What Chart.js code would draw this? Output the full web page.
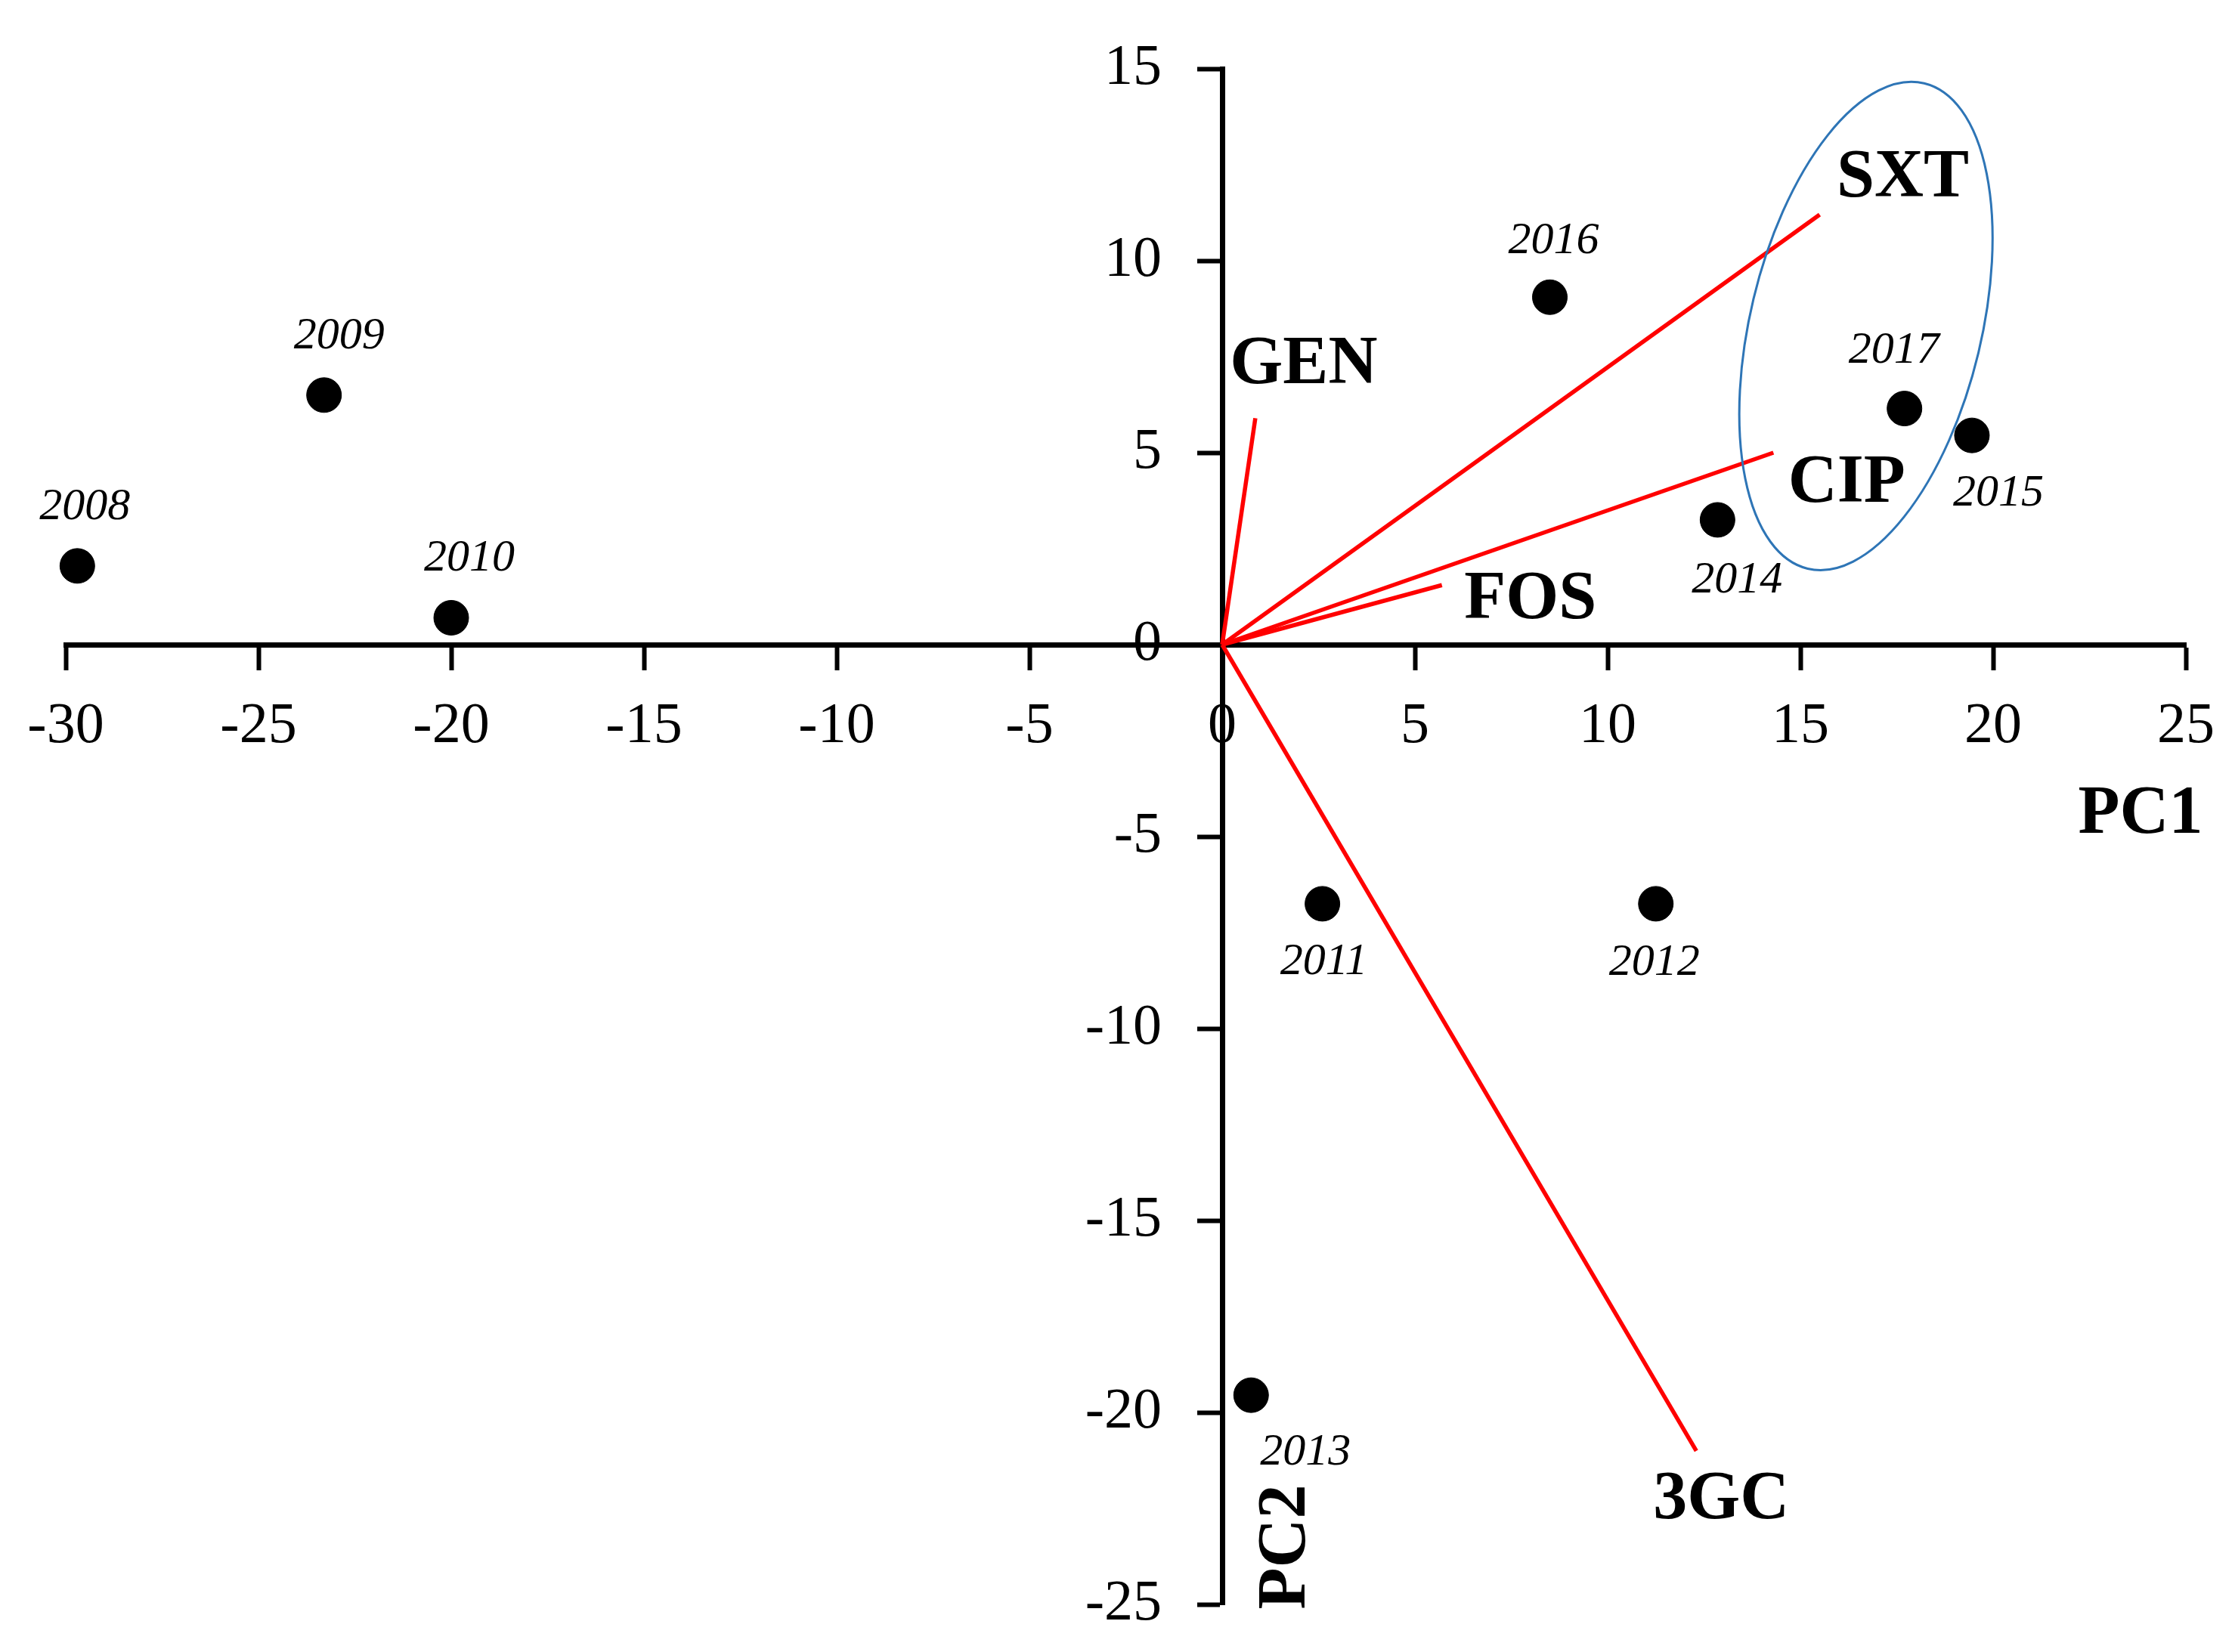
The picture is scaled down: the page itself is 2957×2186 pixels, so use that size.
<!DOCTYPE html>
<html>
<head>
<meta charset="utf-8">
<title>PCA biplot</title>
<script src="https://cdn.jsdelivr.net/npm/chart.js@4.4.1/dist/chart.umd.min.js"></script>
<style>
  html, body { margin: 0; padding: 0; background: #ffffff; overflow: hidden; }
  .chart-box { width: 2957px; height: 2186px; }
</style>
</head>
<body>
<div class="chart-box"><canvas id="biplot"></canvas></div>
<script>
// Scores (one point per year)
const years = ['2008', '2009', '2010', '2011', '2012', '2013', '2014', '2015', '2016', '2017'];
const scoreX = [-29.7, -23.3, -20.0, 2.6, 11.25, 0.75, 12.85, 19.45, 8.5, 17.7];
const scoreY = [2.05, 6.5, 0.7, -6.75, -6.75, -19.55, 3.25, 5.45, 9.05, 6.15];

// Loadings (one vector per antibiotic)
const drugs = ['GEN', 'SXT', 'CIP', 'FOS', '3GC'];
const loadX = [0.86, 15.5, 14.3, 5.7, 12.3];
const loadY = [5.9, 11.2, 5.0, 1.55, -21.0];

// Axis ticks
const xTicks = [-30, -25, -20, -15, -10, -5, 0, 5, 10, 15, 20, 25];
const yTicks = [-25, -20, -15, -10, -5, 0, 5, 10, 15];

// Cluster ellipse (data units)
const clusterCenter = [16.7, 8.3];
const clusterRadii = [3.0, 6.5];
const clusterTilt = 13.5;

// Label placement, in pixels from the mark
const yearLabelOffset = {
  '2008': [10, -78], '2009': [20, -78], '2010': [24, -78], '2011': [2, 77], '2012': [-2, 78],
  '2013': [72, 76], '2014': [26, 80], '2015': [35, 77], '2016': [5, -74], '2017': [-14, -76]
};
const drugLabelOffset = {
  'GEN': [64, -70], 'SXT': [110, -47], 'CIP': [97, 42], 'FOS': [117, 20], '3GC': [33, 66]
};

const serif = '"Liberation Serif", "DejaVu Serif", serif';

// Tick labels, text labels, axis titles and the ellipse
const annotationPlugin = {
  id: 'annotations',
  afterDatasetsDraw(chart) {
    const ctx = chart.ctx;
    const xs = chart.scales.x;
    const ys = chart.scales.y;
    const x0 = xs.getPixelForValue(0);
    const y0 = ys.getPixelForValue(0);
    ctx.save();

    // ellipse
    const cx = xs.getPixelForValue(clusterCenter[0]);
    const cy = ys.getPixelForValue(clusterCenter[1]);
    const rx = Math.abs(xs.getPixelForValue(clusterCenter[0] + clusterRadii[0]) - cx);
    const ry = Math.abs(ys.getPixelForValue(clusterCenter[1] + clusterRadii[1]) - cy);
    ctx.beginPath();
    ctx.ellipse(cx, cy, rx, ry, clusterTilt * Math.PI / 180, 0, Math.PI * 2);
    ctx.strokeStyle = '#2E75B6';
    ctx.lineWidth = 3;
    ctx.stroke();

    ctx.fillStyle = '#000000';
    ctx.textBaseline = 'middle';
    ctx.font = '76px ' + serif;

    // y tick labels, left of the centre axis
    ctx.textAlign = 'right';
    yTicks.forEach(function(v) {
      ctx.fillText(String(v), x0 - 80, ys.getPixelForValue(v));
    });

    // x tick labels, below the centre axis
    ctx.textAlign = 'center';
    xTicks.forEach(function(v) {
      ctx.fillText(String(v), xs.getPixelForValue(v), y0 + 109);
    });

    // year labels
    ctx.font = 'italic 60px ' + serif;
    years.forEach(function(yr, i) {
      const off = yearLabelOffset[yr];
      ctx.fillText(yr, xs.getPixelForValue(scoreX[i]) + off[0], ys.getPixelForValue(scoreY[i]) + off[1]);
    });

    // loading labels
    ctx.font = 'bold 90px ' + serif;
    drugs.forEach(function(d, i) {
      const off = drugLabelOffset[d];
      ctx.fillText(d, xs.getPixelForValue(loadX[i]) + off[0], ys.getPixelForValue(loadY[i]) + off[1]);
    });

    // axis titles
    ctx.fillText('PC1', xs.getPixelForValue(xTicks[xTicks.length - 1]) - 60, y0 + 226);
    ctx.translate(x0 + 86, ys.getPixelForValue(yTicks[0]) - 76);
    ctx.rotate(-Math.PI / 2);
    ctx.fillText('PC2', 0, 0);

    ctx.restore();
  }
};

const loadingSets = drugs.map(function(d, i) {
  return {
    type: 'line',
    label: d,
    data: [{ x: 0, y: 0 }, { x: loadX[i], y: loadY[i] }],
    borderColor: '#FF0000',
    borderWidth: 5.5,
    pointRadius: 0,
    fill: false,
    clip: false,
    order: 2
  };
});

const scoreSet = {
  type: 'scatter',
  label: 'Years',
  data: years.map(function(yr, i) { return { x: scoreX[i], y: scoreY[i] }; }),
  backgroundColor: '#000000',
  borderColor: '#000000',
  pointRadius: 23,
  pointHoverRadius: 23,
  clip: false,
  order: 1
};

const axisGrid = { drawOnChartArea: false, drawTicks: true, tickLength: 30, tickWidth: 6, tickColor: '#000000' };

new Chart(document.getElementById('biplot'), {
  type: 'scatter',
  data: { datasets: loadingSets.concat([scoreSet]) },
  options: {
    responsive: true,
    maintainAspectRatio: false,
    animation: false,
    layout: { padding: { left: 87, right: 65, top: 91, bottom: 63 } },
    plugins: {
      legend: { display: false },
      tooltip: { enabled: false }
    },
    scales: {
      x: {
        type: 'linear',
        position: { y: 0 },
        min: xTicks[0],
        max: xTicks[xTicks.length - 1],
        afterBuildTicks: function(axis) { axis.ticks = xTicks.map(function(v) { return { value: v }; }); },
        border: { display: true, color: '#000000', width: 7 },
        grid: axisGrid,
        ticks: { display: false, autoSkip: false }
      },
      y: {
        type: 'linear',
        position: { x: 0 },
        min: yTicks[0],
        max: yTicks[yTicks.length - 1],
        afterBuildTicks: function(axis) { axis.ticks = yTicks.map(function(v) { return { value: v }; }); },
        border: { display: true, color: '#000000', width: 7 },
        grid: axisGrid,
        ticks: { display: false, autoSkip: false }
      }
    }
  },
  plugins: [annotationPlugin]
});
</script>
</body>
</html>
